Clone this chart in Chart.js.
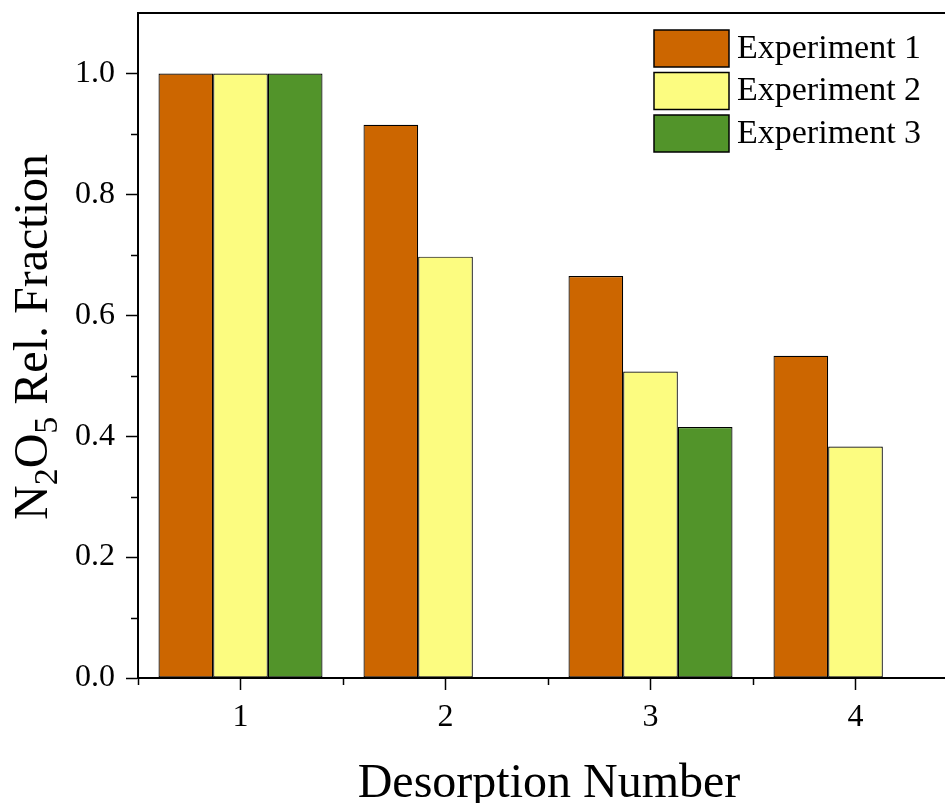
<!DOCTYPE html>
<html>
<head>
<meta charset="utf-8">
<script src="https://cdn.jsdelivr.net/npm/chart.js@4.4.1/dist/chart.umd.min.js"></script>
<style>
  html, body { margin: 0; padding: 0; background: #fff; }
  #wrap { width: 945px; height: 803px; overflow: hidden; position: relative; }
  canvas { display: block; }
</style>
</head>
<body>
<div id="wrap"><canvas id="chart" width="960" height="803"></canvas></div>
<script>
// Data
const desorptionNumbers = ['1', '2', '3', '4'];
const experiment1 = [1.0, 0.915, 0.665, 0.533];
const experiment2 = [1.0, 0.697, 0.507, 0.383];
const experiment3 = [1.0, null, 0.415, null];
const seriesLabels = ['Experiment 1', 'Experiment 2', 'Experiment 3'];
const seriesColors = ['#CC6600', '#FCFC80', '#52942A'];
const minorYTicks = [0.1, 0.3, 0.5, 0.7, 0.9];

const serif = "'Liberation Serif', 'Times New Roman', serif";

// Frame, minor ticks, axis titles and in-plot legend
const decorPlugin = {
    id: 'decor',
    afterDraw(chart) {
        const ctx = chart.ctx;
        const area = chart.chartArea;
        const xs = chart.scales.x;
        const ys = chart.scales.y;
        ctx.save();
        ctx.strokeStyle = '#000';
        ctx.lineWidth = 2;

        // top frame line
        ctx.beginPath();
        ctx.moveTo(area.left, area.top);
        ctx.lineTo(area.right, area.top);
        ctx.stroke();

        // minor y ticks
        ctx.lineWidth = 1.5;
        minorYTicks.forEach(v => {
            const y = Math.round(ys.getPixelForValue(v)) + 0.5;
            ctx.beginPath();
            ctx.moveTo(area.left - 7, y);
            ctx.lineTo(area.left, y);
            ctx.stroke();
        });
        // minor x ticks at the category boundaries
        for (let i = 0; i <= desorptionNumbers.length; i++) {
            const x = Math.round(xs.getPixelForValue(i - 0.5)) + 0.5;
            ctx.beginPath();
            ctx.moveTo(x, area.bottom);
            ctx.lineTo(x, area.bottom + 7);
            ctx.stroke();
        }

        // x title
        ctx.fillStyle = '#000';
        ctx.font = '48px ' + serif;
        ctx.textAlign = 'center';
        ctx.textBaseline = 'alphabetic';
        ctx.fillText('Desorption Number', (area.left + area.right) / 2 + 1, 797);

        // y title with subscripts
        const parts = [['N', 48, 0], ['2', 34, 10], ['O', 48, 0], ['5', 34, 10], [' Rel. Fraction', 48, 0]];
        let total = 0;
        parts.forEach(p => { ctx.font = p[1] + 'px ' + serif; total += ctx.measureText(p[0]).width; });
        ctx.translate(47, 337);
        ctx.rotate(-Math.PI / 2);
        ctx.textAlign = 'left';
        let cx = -total / 2;
        parts.forEach(p => {
            ctx.font = p[1] + 'px ' + serif;
            ctx.fillText(p[0], cx, p[2]);
            cx += ctx.measureText(p[0]).width;
        });
        ctx.setTransform(1, 0, 0, 1, 0, 0);

        // legend
        ctx.font = '34px ' + serif;
        ctx.textBaseline = 'middle';
        ctx.lineWidth = 1.5;
        chart.data.datasets.forEach((ds, i) => {
            const top = 30 + i * 42.5;
            ctx.fillStyle = ds.backgroundColor;
            ctx.fillRect(654, top, 75, 37);
            ctx.strokeRect(654, top, 75, 37);
            ctx.fillStyle = '#000';
            ctx.fillText(ds.label, 737, top + 19);
        });
        ctx.restore();
    }
};

new Chart(document.getElementById('chart'), {
    type: 'bar',
    data: {
        labels: desorptionNumbers,
        datasets: [experiment1, experiment2, experiment3].map((vals, i) => ({
            label: seriesLabels[i],
            data: vals,
            backgroundColor: seriesColors[i],
            borderColor: '#000',
            borderWidth: 1.2,
            borderSkipped: false,
            categoryPercentage: 0.8,
            barPercentage: 1.0
        }))
    },
    options: {
        responsive: false,
        animation: false,
        devicePixelRatio: 1,
        layout: { padding: { top: 13, left: 0, right: 2, bottom: 0 } },
        plugins: {
            legend: { display: false },
            tooltip: { enabled: false }
        },
        scales: {
            x: {
                offset: true,
                grid: { offset: false, drawOnChartArea: false, drawTicks: true, tickLength: 12, tickWidth: 1.5, tickColor: '#000' },
                border: { color: '#000', width: 2 },
                ticks: { color: '#000', font: { family: serif, size: 32 }, padding: 8 },
                afterFit(scale) {
                    scale.height = 125;
                    scale.paddingLeft = 0;
                    scale.paddingRight = 0;
                }
            },
            y: {
                min: 0,
                max: 1.1,
                grid: { drawOnChartArea: false, drawTicks: true, tickLength: 12, tickWidth: 1.5, tickColor: '#000' },
                border: { color: '#000', width: 2 },
                ticks: {
                    stepSize: 0.2,
                    includeBounds: false,
                    color: '#000',
                    font: { family: serif, size: 32 },
                    padding: 11,
                    callback: v => v.toFixed(1)
                },
                afterFit(scale) {
                    scale.width = 138;
                    scale.paddingTop = 0;
                    scale.paddingBottom = 0;
                }
            }
        }
    },
    plugins: [decorPlugin]
});
</script>
</body>
</html>
